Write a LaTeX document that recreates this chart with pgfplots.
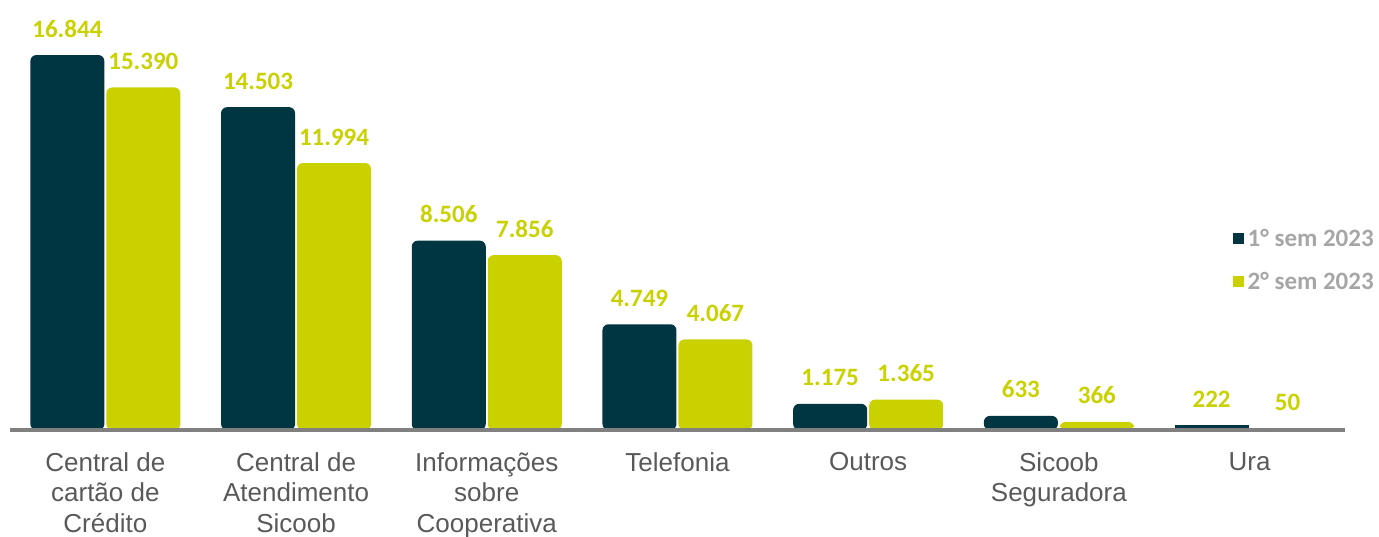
\documentclass[border=0pt]{standalone}
\usepackage{fontspec}
\setmainfont{Liberation Sans}
\newfontfamily\carl{Carlito}
\usepackage{pgfplots}
\pgfplotsset{compat=1.18}
\definecolor{darkteal}{HTML}{003641}
\definecolor{lime}{HTML}{C9D200}
\definecolor{catgray}{HTML}{595959}
\definecolor{leggray}{HTML}{A6A6A6}
\definecolor{axgray}{HTML}{808080}
\begin{document}
\begin{tikzpicture}
\useasboundingbox (0,0) rectangle (1379pt,537pt);
\begin{axis}[
  at={(10pt,107pt)}, anchor=south west,
  scale only axis, width=1335pt, height=430pt,
  xmin=-0.5, xmax=6.5, ymin=0, ymax=19317,
  clip=false, axis on top,
  ybar=2pt, bar width=74pt,
  axis y line=none, axis x line*=bottom,
  x axis line style={draw=axgray, line width=4pt, -},
  xtick={0,1,2,3,4,5,6},
  xticklabels={{Central de\\cartão de\\Crédito},{Central de\\Atendimento\\Sicoob},{Informações\\sobre\\Cooperativa},{Telefonia},{Outros},{Sicoob\\Seguradora},{Ura}},
  major tick length=0pt,
  xticklabel style={font=\fontsize{26}{30.5}\selectfont, text=catgray, align=center, anchor=north, inner sep=0pt, yshift=-22pt},
  nodes near coords,
  nodes near coords style={font=\carl\bfseries\fontsize{25}{30}\selectfont, text=lime, anchor=base, yshift=18pt},
  /pgf/number format/.cd, 1000 sep={.}, assume math mode=true, fixed, precision=0,
  /pgfplots/.cd,
  legend style={draw=none, fill=none, at={(0.9135,0.476)}, anchor=north west, font=\carl\bfseries\fontsize{25}{30}\selectfont, text=leggray, row sep=20pt, legend cell align=left},
  legend image code/.code={\fill[#1, sharp corners] (0pt,-5.5pt) rectangle (11pt,5.5pt);},
]
\addplot[fill=darkteal, draw=none, rounded corners=6pt, bar shift=-38pt] coordinates {(0,16844) (1,14503) (2,8506) (3,4749) (4,1175) (5,633)};
\addplot[fill=lime, draw=none, rounded corners=6pt, bar shift=38pt] coordinates {(0,15390) (1,11994) (2,7856) (3,4067) (4,1365) (5,366)};
\addplot[fill=darkteal, draw=none, sharp corners, bar shift=-38pt, forget plot] coordinates {(6,222)};
\addplot[fill=lime, draw=none, sharp corners, bar shift=38pt, forget plot] coordinates {(6,50)};
\legend{\hspace{2pt}1° sem 2023, \hspace{2pt}2° sem 2023}
\end{axis}
\end{tikzpicture}
\end{document}
